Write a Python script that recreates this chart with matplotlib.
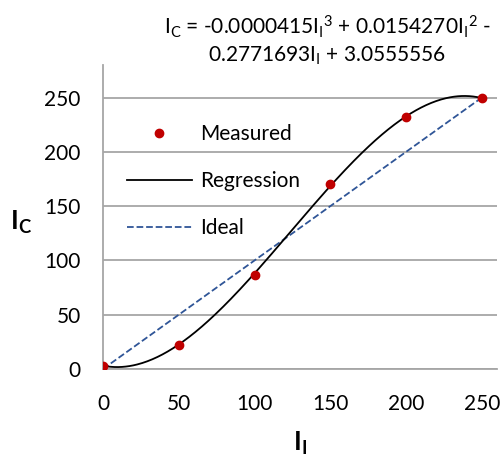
import matplotlib
matplotlib.use('Agg')
import matplotlib.pyplot as plt
import numpy as np

plt.rcParams['font.family'] = ['Lato', 'DejaVu Sans']
plt.rcParams['mathtext.fontset'] = 'custom'
plt.rcParams['mathtext.rm'] = 'Lato'
plt.rcParams['mathtext.it'] = 'Lato'
plt.rcParams['mathtext.bf'] = 'Lato:bold'

# данные
x_meas = [0, 50, 100, 150, 200, 250]
y_meas = [3, 22, 87, 170, 232, 250]
coef = [-0.0000415, 0.0154270, -0.2771693, 3.0555556]  # кубическая регрессия
x_ideal = [0, 250]
y_ideal = [0, 250]

fig = plt.figure(figsize=(5.01, 4.57), dpi=100)
ax = fig.add_axes([103/501, (457-369)/457, 394/501, 304/457])

xs = np.linspace(0, 250, 300)
ax.plot(x_meas, y_meas, 'o', color='#c00000', markersize=6, label='Measured', zorder=4)
ax.plot(xs, np.polyval(coef, xs), color='black', lw=1.3, label='Regression', zorder=3)
ax.plot(x_ideal, y_ideal, '--', color='#2f5597', lw=1.3, label='Ideal', zorder=2)

ax.set_xlim(0, 260)
ax.set_ylim(0, 280)
ax.set_xticks(range(0, 251, 50))
ax.set_yticks(range(0, 251, 50))
ax.tick_params(length=0, labelsize=15, colors='black')
ax.tick_params(axis='x', pad=18)
ax.tick_params(axis='y', pad=16)
ax.grid(axis='y', color='#a6a6a6', lw=1.3)
ax.set_axisbelow(True)
for s in ['top', 'right']:
    ax.spines[s].set_visible(False)
for s in ['left', 'bottom']:
    ax.spines[s].set_color('#a6a6a6')
    ax.spines[s].set_linewidth(1.3)

fig.text(21/501, 1-222/457, r'I$_\mathbf{C}$', fontsize=19, fontweight='bold', ha='center', va='center')
fig.text(300/501, 1-443/457, r'I$_\mathbf{I}$', fontsize=19, fontweight='bold', ha='center', va='center')

fig.text(327/501, 1-40/457,
         'I$_\\mathrm{C}$ = -0.0000415I$_\\mathrm{I}$$^3$ + 0.0154270I$_\\mathrm{I}$$^2$ -\n'
         '0.2771693I$_\\mathrm{I}$ + 3.0555556',
         fontsize=15, ha='center', va='center', linespacing=1.3)

leg = ax.legend(loc='upper left', bbox_to_anchor=(24/394, (369-124)/304), frameon=False, fontsize=15,
                handlelength=3.1, labelspacing=1.3, handletextpad=0.4, borderpad=0, borderaxespad=0)

plt.savefig('out.png', dpi=100)
